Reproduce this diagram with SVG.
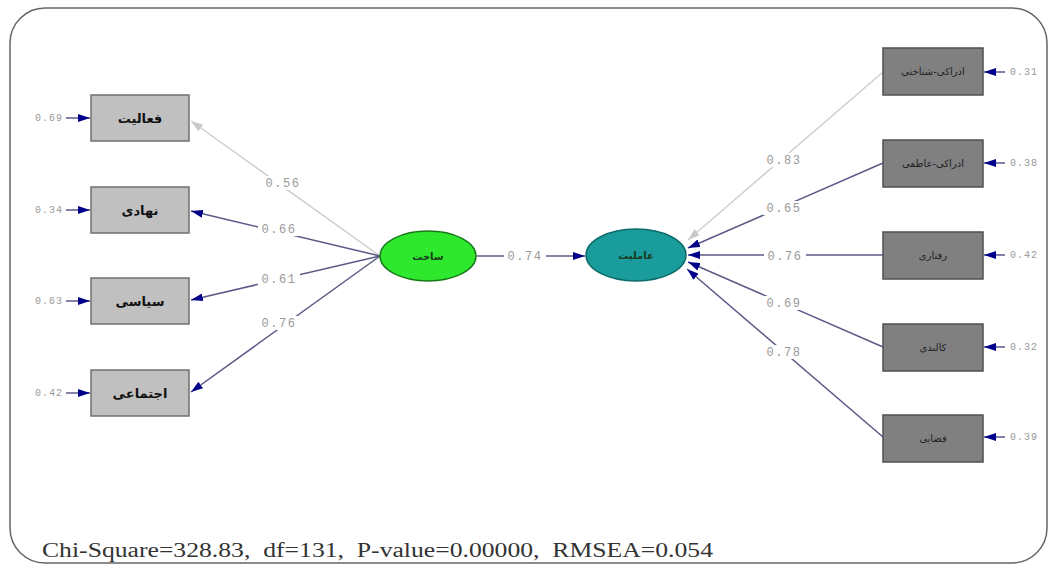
<svg xmlns="http://www.w3.org/2000/svg" width="1057" height="570" viewBox="0 0 1057 570">
<style>
.frame{fill:#fff;stroke:#666;stroke-width:1.5}
.lbox{fill:#c0c0c0;stroke:#707070;stroke-width:1.5}
.rbox{fill:#808080;stroke:#505050;stroke-width:1.5}
.ltxt{font-family:"DejaVu Sans",sans-serif;font-size:13px;font-weight:bold;fill:#111;text-anchor:middle}
.rtxt{font-family:"DejaVu Sans",sans-serif;font-size:10px;fill:#222;text-anchor:middle}
.etxt{font-family:"DejaVu Sans",sans-serif;font-size:10px;font-weight:bold;fill:#1a3a1a;text-anchor:middle}
.num{font-family:"Liberation Mono",monospace;font-size:12px;letter-spacing:1.5px;fill:#999;text-anchor:middle}
.bg{fill:#fff}
.err{font-family:"Liberation Mono",monospace;font-size:10px;letter-spacing:1px;fill:#999}
.ln{stroke:#5a5a88;stroke-width:1.5;fill:none}
.lg{stroke:#cfcfcf;stroke-width:1.5;fill:none}
.en{stroke:#303070;stroke-width:1.2;fill:none}
.stat{font-family:"Liberation Serif",serif;font-size:20px;fill:#333}
</style>
<defs>
<marker id="an" viewBox="0 0 12 8" refX="12" refY="4" markerWidth="12" markerHeight="8" markerUnits="userSpaceOnUse" orient="auto">
<path d="M0,0 L12,4 L0,8 z" fill="#00008b"/>
</marker>
<marker id="ag" viewBox="0 0 12 8" refX="12" refY="4" markerWidth="12" markerHeight="8" markerUnits="userSpaceOnUse" orient="auto">
<path d="M0,0 L12,4 L0,8 z" fill="#c8c8c8"/>
</marker>
</defs>
<rect class="frame" x="10" y="8" width="1037" height="555" rx="35" ry="35"/>
<g id="connectors">
<line class="lg" x1="380" y1="256" x2="191" y2="121" marker-end="url(#ag)"/>
<line class="ln" x1="380" y1="256" x2="191" y2="211" marker-end="url(#an)"/>
<line class="ln" x1="380" y1="256" x2="191" y2="300" marker-end="url(#an)"/>
<line class="ln" x1="380" y1="256" x2="191" y2="392" marker-end="url(#an)"/>
<line class="ln" x1="477" y1="256" x2="585" y2="256" marker-end="url(#an)"/>
<line class="lg" x1="883" y1="72" x2="688" y2="240" marker-end="url(#ag)"/>
<line class="ln" x1="883" y1="163" x2="688" y2="248" marker-end="url(#an)"/>
<line class="ln" x1="883" y1="255" x2="688" y2="255" marker-end="url(#an)"/>
<line class="ln" x1="883" y1="347" x2="688" y2="262" marker-end="url(#an)"/>
<line class="ln" x1="883" y1="437" x2="687" y2="269" marker-end="url(#an)"/>
<line class="en" x1="66" y1="118" x2="90" y2="118" marker-end="url(#an)"/>
<line class="en" x1="66" y1="210" x2="90" y2="210" marker-end="url(#an)"/>
<line class="en" x1="66" y1="301" x2="90" y2="301" marker-end="url(#an)"/>
<line class="en" x1="66" y1="393" x2="90" y2="393" marker-end="url(#an)"/>
<line class="en" x1="1005" y1="72" x2="984" y2="72" marker-end="url(#an)"/>
<line class="en" x1="1005" y1="163" x2="984" y2="163" marker-end="url(#an)"/>
<line class="en" x1="1005" y1="255" x2="984" y2="255" marker-end="url(#an)"/>
<line class="en" x1="1005" y1="347" x2="984" y2="347" marker-end="url(#an)"/>
<line class="en" x1="1005" y1="437" x2="984" y2="437" marker-end="url(#an)"/>
<rect class="bg" x="262" y="176" width="42" height="14"/><text class="num" x="283" y="187">0.56</text>
<rect class="bg" x="258" y="222" width="42" height="14"/><text class="num" x="279" y="233">0.66</text>
<rect class="bg" x="258" y="272" width="42" height="14"/><text class="num" x="279" y="283">0.61</text>
<rect class="bg" x="258" y="316" width="42" height="14"/><text class="num" x="279" y="327">0.76</text>
<rect class="bg" x="504" y="249" width="42" height="14"/><text class="num" x="525" y="260">0.74</text>
<rect class="bg" x="763" y="153" width="42" height="14"/><text class="num" x="784" y="164">0.83</text>
<rect class="bg" x="763" y="201" width="42" height="14"/><text class="num" x="784" y="212">0.65</text>
<rect class="bg" x="764" y="249" width="42" height="14"/><text class="num" x="785" y="260">0.76</text>
<rect class="bg" x="763" y="296" width="42" height="14"/><text class="num" x="784" y="307">0.69</text>
<rect class="bg" x="763" y="345" width="42" height="14"/><text class="num" x="784" y="356">0.78</text>
</g>
<g id="n-faaliat"><rect class="lbox" x="91" y="95" width="98" height="46"/><text class="ltxt" x="140" y="123">فعالیت</text><text class="err" x="35" y="121">0.69</text></g>
<g id="n-nahadi"><rect class="lbox" x="91" y="187" width="98" height="46"/><text class="ltxt" x="140" y="215">نهادی</text><text class="err" x="35" y="213">0.34</text></g>
<g id="n-siasi"><rect class="lbox" x="91" y="278" width="98" height="46"/><text class="ltxt" x="140" y="306">سیاسی</text><text class="err" x="35" y="304">0.63</text></g>
<g id="n-ejtemai"><rect class="lbox" x="91" y="370" width="98" height="46"/><text class="ltxt" x="140" y="398">اجتماعی</text><text class="err" x="35" y="396">0.42</text></g>
<g id="n-sakht"><ellipse cx="428" cy="256" rx="48" ry="25" fill="#2ee82e" stroke="#1a7a1a" stroke-width="1.5"/><text class="etxt" x="428" y="260">ساخت</text></g>
<g id="n-amelyat"><ellipse cx="636" cy="255" rx="50" ry="26" fill="#1a9c9c" stroke="#0e6a6a" stroke-width="1.5"/><text class="etxt" x="636" y="259">عاملیت</text></g>
<g id="n-shenakhti"><rect class="rbox" x="883" y="48" width="100" height="47"/><text class="rtxt" x="933" y="75">ادراکی-شناختی</text><text class="err" x="1010" y="75">0.31</text></g>
<g id="n-atefi"><rect class="rbox" x="883" y="140" width="100" height="47"/><text class="rtxt" x="933" y="167">ادراکی-عاطفی</text><text class="err" x="1010" y="166">0.38</text></g>
<g id="n-raftari"><rect class="rbox" x="883" y="232" width="100" height="47"/><text class="rtxt" x="933" y="259">رفتاری</text><text class="err" x="1010" y="258">0.42</text></g>
<g id="n-kalbadi"><rect class="rbox" x="883" y="324" width="100" height="47"/><text class="rtxt" x="933" y="351">کالبدی</text><text class="err" x="1010" y="350">0.32</text></g>
<g id="n-fazaei"><rect class="rbox" x="883" y="415" width="100" height="47"/><text class="rtxt" x="933" y="442">فضایی</text><text class="err" x="1010" y="440">0.39</text></g>
<text class="stat" x="42" y="557" xml:space="preserve" textLength="671" lengthAdjust="spacingAndGlyphs">Chi-Square=328.83,  df=131,  P-value=0.00000,  RMSEA=0.054</text>
</svg>
